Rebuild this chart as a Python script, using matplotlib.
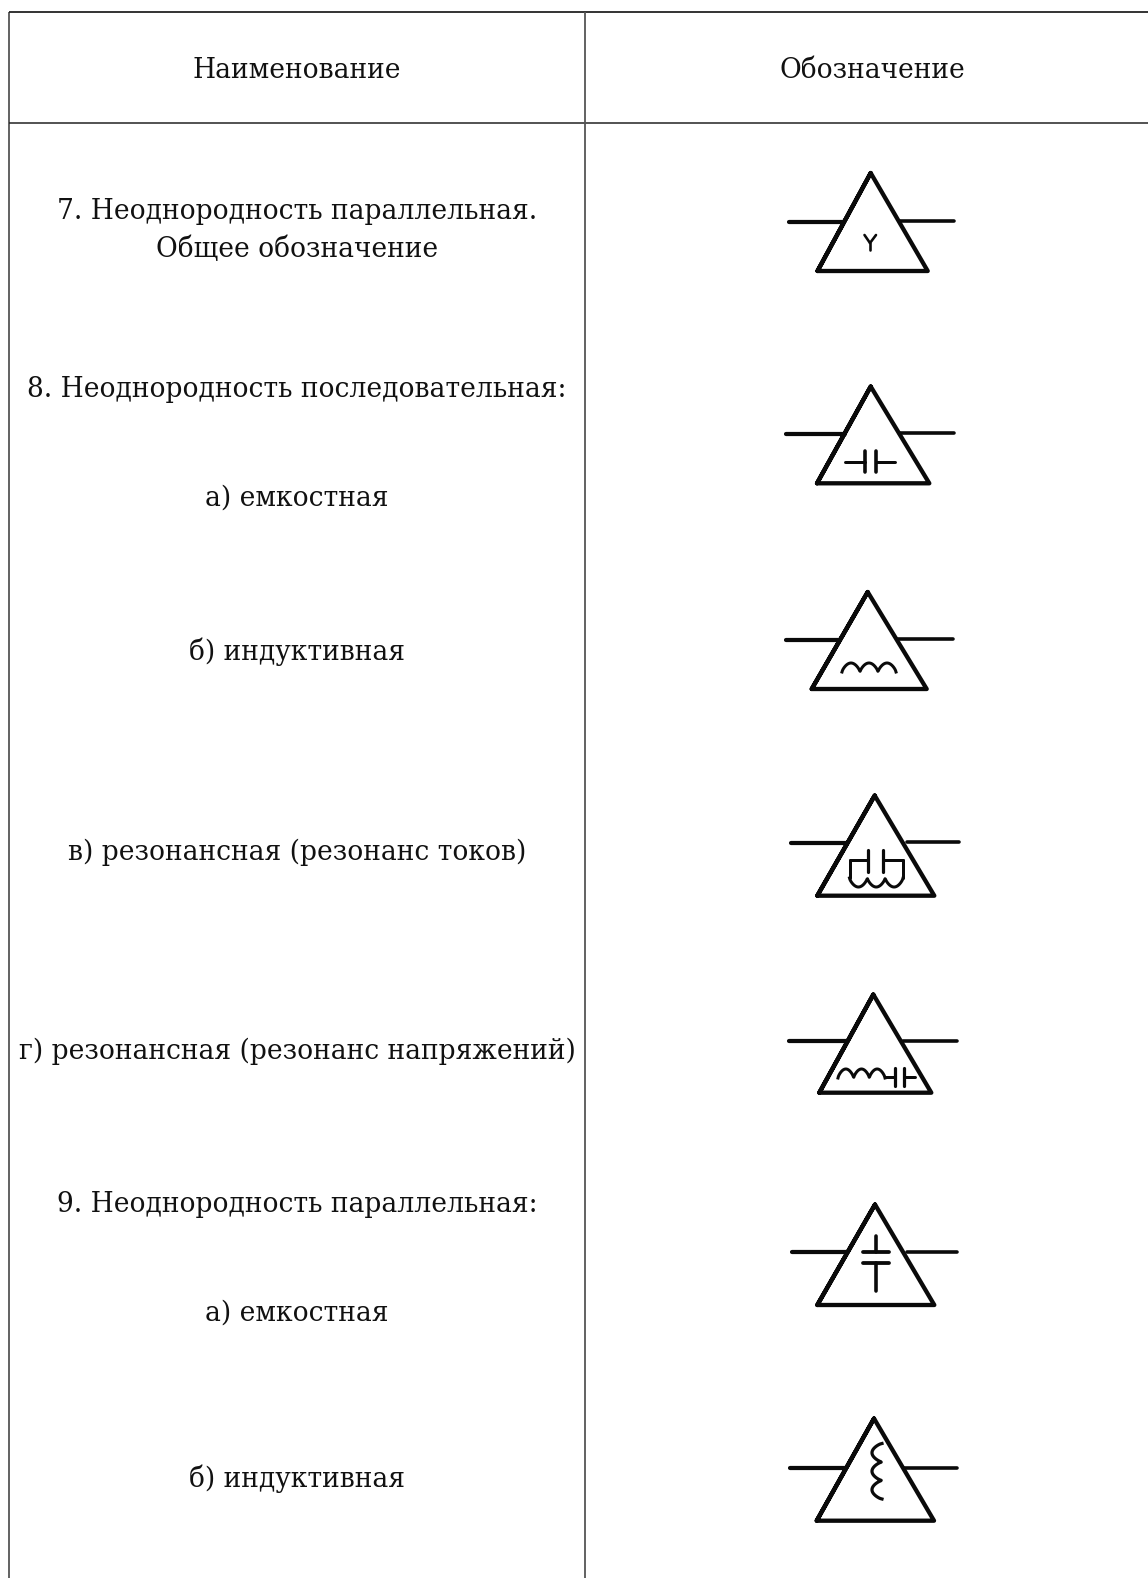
import numpy as np
import matplotlib
matplotlib.use("Agg")
import matplotlib.pyplot as plt

W, H = 1148, 1578

header_names = ["Наименование", "Обозначение"]
row_labels = [
    "7. Неоднородность параллельная.",
    "Общее обозначение",
    "8. Неоднородность последовательная:",
    "а) емкостная",
    "б) индуктивная",
    "в) резонансная (резонанс токов)",
    "г) резонансная (резонанс напряжений)",
    "9. Неоднородность параллельная:",
    "а) емкостная",
    "б) индуктивная",
]
row_y = [211, 249, 389, 498, 652, 852, 1051, 1204, 1313, 1479]

# apex x, apex y, base left x, base right x, base y,
# left wire x0, x1, y; right wire x0, x1, y
triangles = [
    (870.7, 173, 817.5, 927.7, 271, 788.5, 843, 222.3, 900, 954, 220.7),
    (870.7, 386.5, 817, 929.3, 483.3, 786, 845, 433.7, 899.3, 954, 433.3),
    (867.7, 592, 811.7, 926.7, 689, 786, 839.3, 640.3, 898.3, 953.3, 639.3),
    (874.7, 795.5, 817.3, 934.3, 895.7, 790.7, 847.3, 843, 906.7, 959, 841.7),
    (873.3, 994.5, 819.3, 931.3, 1092.7, 789.3, 846, 1041, 903.3, 956.7, 1041),
    (875, 1204.5, 817.3, 934.3, 1305, 792.3, 846.7, 1251.7, 906.7, 956.7, 1251.7),
    (874, 1418.5, 816.7, 934, 1520.7, 790, 846, 1468.3, 904, 957.3, 1467.7),
]

INK = "#0a0a0a"
plt.rcParams["font.family"] = ["DejaVu Serif"]
fig = plt.figure(figsize=(W / 100, H / 100), dpi=100, facecolor="white")
ax = fig.add_axes([0, 0, 1, 1])
ax.set_xlim(0, W)
ax.set_ylim(H, 0)
ax.axis("off")


def seg(x0, y0, x1, y1, lw=3.0):
    ax.plot([x0, x1], [y0, y1], color=INK, lw=lw * 0.72, solid_capstyle="round",
            solid_joinstyle="miter")


def coil_h(x0, x1, y, h, n, lw=3.0):
    t = np.linspace(0, 1, 120)
    ax.plot(x0 + (x1 - x0) * t, y - h * np.abs(np.sin(n * np.pi * t)) ** 0.7,
            color=INK, lw=lw * 0.72)


def coil_v(y0, y1, x, h, n, lw=3.2):
    t = np.linspace(0, 1, 120)
    ax.plot(x - h * np.abs(np.sin(n * np.pi * t)) ** 0.7, y0 + (y1 - y0) * t,
            color=INK, lw=lw * 0.72)


# table rules
ax.plot([9, W], [12, 12], color="#111111", lw=1.2, solid_capstyle="butt")
ax.plot([9, W], [122.7, 122.7], color="#444444", lw=1.3, solid_capstyle="butt")
ax.plot([9, 9], [12, H], color="#222222", lw=1.0, solid_capstyle="butt", snap=False)
ax.plot([585, 585], [12, H], color="#555555", lw=1.3, solid_capstyle="butt")

# text
FS = 19.1
TC = "#111111"
ax.text(297, 70.5, header_names[0], ha="center", va="center", fontsize=FS, color=TC)
ax.text(872, 70.5, header_names[1], ha="center", va="center", fontsize=FS, color=TC)
for label, y in zip(row_labels, row_y):
    ax.text(297, y, label, ha="center", va="center", fontsize=FS, color=TC)

# triangles and wires
for ax_, ay, bl, br, by, lx0, lx1, ly, rx0, rx1, ry in triangles:
    ax.plot([ax_, bl, br, ax_, bl], [ay, by, by, ay, by], color=INK, lw=4.3 * 0.72,
            solid_joinstyle="round", solid_capstyle="round")
    seg(lx0, ly, lx1, ly, 4.2)
    seg(rx0, ry, rx1, ry, 3.6)

# symbol 1: Y
seg(864.5, 235, 870, 243, 2.6)
seg(876, 235, 870, 243, 2.6)
seg(870, 243, 870, 250, 2.6)

# symbol 2: capacitor
seg(845, 461.7, 865, 461.7, 3.0)
seg(865, 451, 865, 471.5, 3.6)
seg(876, 451, 876, 471.5, 3.6)
seg(876, 461.7, 895, 461.7, 3.0)

# symbol 3: inductor
coil_h(842, 896, 672, 9, 3)

# symbol 4: parallel resonance
seg(849.5, 860, 868, 860, 3.0)
seg(868, 850, 868, 872, 3.2)
seg(882.5, 850, 882.5, 872, 3.2)
seg(882.5, 860, 903, 860, 3.0)
seg(849.5, 860, 849.5, 878, 3.0)
seg(903, 860, 903, 878, 3.0)
coil_h(849.5, 903, 878, -9, 3, 3.0)

# symbol 5: series resonance
coil_h(838, 885, 1078, 9, 3)
seg(885, 1077, 894.5, 1077, 3.0)
seg(894.5, 1068, 894.5, 1086, 3.2)
seg(904, 1068, 904, 1086, 3.2)
seg(904, 1077, 915, 1077, 3.0)

# symbol 6: vertical capacitor
seg(875.7, 1235.5, 875.7, 1251.7, 3.6)
seg(863, 1251.7, 888.5, 1251.7, 3.8)
seg(863, 1263.3, 888.5, 1263.3, 3.8)
seg(875.7, 1263.3, 875.7, 1291, 3.6)

# symbol 7: vertical inductor
coil_v(1443.5, 1499, 882, 10, 3)

fig.savefig("out.png", dpi=100, facecolor="white")
